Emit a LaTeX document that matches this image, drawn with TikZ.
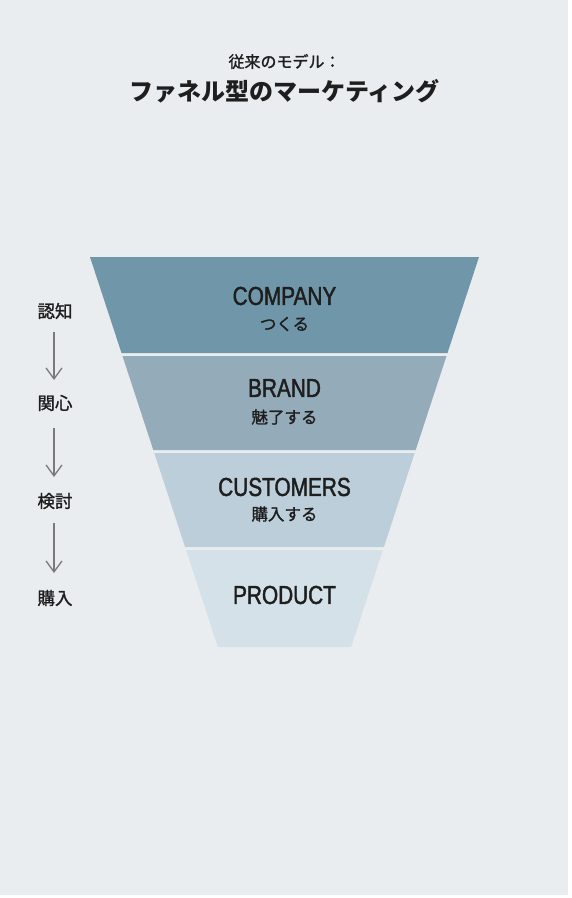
\documentclass[tikz,border=0pt]{standalone}
\usepackage{fontspec}
\setmainfont{Liberation Sans}
\newfontfamily\cond[FakeStretch=0.8,FakeBold=1.6]{Liberation Sans}
\newfontfamily\jp{Noto Sans CJK JP}
\newfontfamily\jpm[FakeBold=1.4]{Noto Sans CJK JP}
\usetikzlibrary{arrows.meta}
\definecolor{bg}{HTML}{E9EDF0}
\definecolor{bandA}{HTML}{7096AA}
\definecolor{bandB}{HTML}{94ABB9}
\definecolor{bandC}{HTML}{BCCEDA}
\definecolor{bandD}{HTML}{D5E1E9}
\definecolor{ink}{HTML}{1E1E1E}
\definecolor{arrgray}{HTML}{7A7A7A}
\tikzset{
  en/.style={font={\cond\fontsize{26}{26}\selectfont}, text=ink, inner sep=0pt},
  sub/.style={font={\jpm\fontsize{16.5}{17}\selectfont}, text=ink, inner sep=0pt},
  step label/.style={font={\jpm\fontsize{17.5}{18}\selectfont}, text=ink, inner sep=0pt},
  flowarrow/.style={draw=arrgray, line width=1.3pt, -{Straight Barb[length=11pt,width=16pt,line width=1.3pt]}},
}
\begin{document}
\begin{tikzpicture}[x=1pt,y=-1pt]
\useasboundingbox (0,0) rectangle (571,898);
\fill[white] (0,0) rectangle (571,898);
\fill[bg] (0,0) rectangle (568,895);

% title
\node[font={\jpm\fontsize{16}{16}\selectfont}, text=ink, inner sep=0pt] (t1) at (284.5,61.5) {従来のモデル：};
\node[font={\jp\bfseries\fontsize{24}{24}\selectfont}, text=ink, inner sep=0pt] (t2) at (284.5,91) {ファネル型のマーケティング};

% funnel bands
\fill[bandA] (90,257) -- (479,257) -- (447.5,353) -- (121.5,353) -- cycle;
\fill[bandB] (122.5,356) -- (446.5,356) -- (415.7,450) -- (153.3,450) -- cycle;
\fill[bandC] (154.3,453) -- (414.7,453) -- (383.9,547) -- (185.1,547) -- cycle;
\fill[bandD] (186.1,550) -- (382.9,550) -- (351.1,647) -- (217.9,647) -- cycle;

% band texts
\node[en] (company) at (284.5,296) {COMPANY};
\node[sub] (companys) at (284.5,324) {つくる};
\node[en] (brand) at (284.5,388) {BRAND};
\node[sub] (brands) at (284.5,417) {魅了する};
\node[en] (customers) at (284.5,487) {CUSTOMERS};
\node[sub] (customerss) at (284.5,514) {購入する};
\node[en] (product) at (284.5,595) {PRODUCT};

% left steps
\node[step label] (s1) at (55,311) {認知};
\node[step label] (s2) at (55,403) {関心};
\node[step label] (s3) at (55,501) {検討};
\node[step label] (s4) at (55,598) {購入};

\coordinate (a1s) at (54,332); \coordinate (a1e) at (54,380);
\coordinate (a2s) at (54,428); \coordinate (a2e) at (54,477);
\coordinate (a3s) at (54,523); \coordinate (a3e) at (54,573);
\draw[flowarrow] (a1s) -- (a1e);
\draw[flowarrow] (a2s) -- (a2e);
\draw[flowarrow] (a3s) -- (a3e);
\end{tikzpicture}
\end{document}
